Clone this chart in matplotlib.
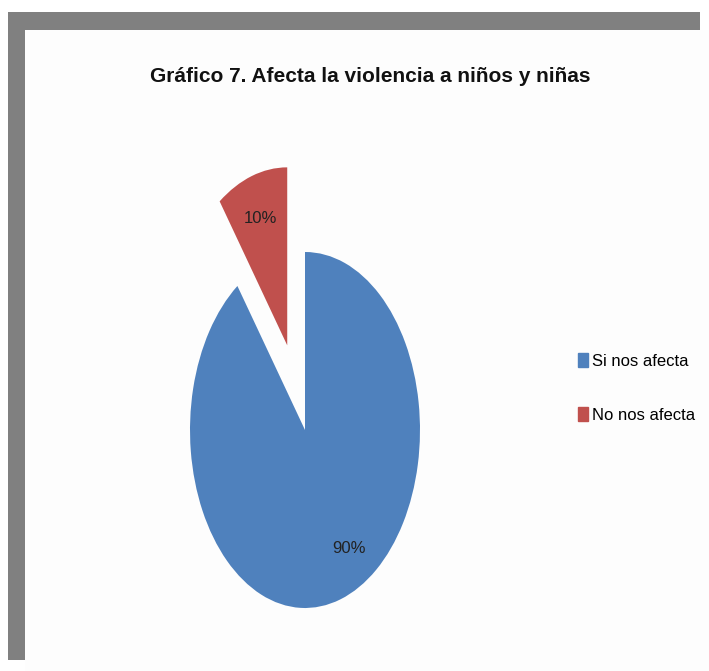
from matplotlib import pyplot as plt, patches

plt.rcParams['font.family'] = ['Liberation Sans', 'DejaVu Sans']

title = "Gráfico 7. Afecta la violencia a niños y niñas"
labels = ["Si nos afecta", "No nos afecta"]
values = [90, 10]
colors = ["#4F81BD", "#C0504D"]
explode = [0, 0.5]

W, H = 709, 671
fig = plt.figure(figsize=(W / 100, H / 100), dpi=100)
fig.patch.set_facecolor("white")

# gray frame shadow (top and left) and inner chart area
fig.add_artist(patches.Rectangle((8 / W, 1 - 30 / H), 692 / W, 18 / H, zorder=-5,
                                 transform=fig.transFigure, color="#808080", lw=0))
fig.add_artist(patches.Rectangle((8 / W, 1 - 660 / H), 17 / W, 648 / H, zorder=-5,
                                 transform=fig.transFigure, color="#808080", lw=0))
fig.add_artist(patches.Rectangle((25 / W, 0), 684 / W, 1 - 30 / H, zorder=-5,
                                 transform=fig.transFigure, color="#FDFDFD", lw=0))

fig.text(370 / W, 1 - 76 / H, title, ha="center", va="center",
         fontsize=15, fontweight="bold", color="#111111")

# pie axes: stretched ellipse, rx=115px, ry=178px around (305, 430)
cx, cy, rx, ry = 305, 430, 115, 178
ax = fig.add_axes([(cx - rx) / W, 1 - (cy + ry) / H, 2 * rx / W, 2 * ry / H])
ax.patch.set_visible(False)
wedges, texts, autotexts = ax.pie(values, colors=colors, explode=explode,
                                  startangle=90, counterclock=False,
                                  autopct="%d%%", pctdistance=0.75,
                                  textprops={"fontsize": 12, "color": "#222222"})
for w in wedges:
    w.set_clip_on(False)
# excel puts the big label a bit further right
x0, y0 = autotexts[0].get_position()
autotexts[0].set_position((x0 + 0.15, y0 + 0.05))
ax.set_aspect("auto")
ax.set_xlim(-1, 1)
ax.set_ylim(-1, 1)
ax.axis("off")

handles = [patches.Patch(color=c) for c in colors]
fig.legend(handles, labels, loc="center left", bbox_to_anchor=(563 / W, 1 - 388 / H),
           frameon=False, fontsize=12, handlelength=0.6, handleheight=0.9,
           handletextpad=0.25, labelspacing=2.3)

fig.savefig("out.png", dpi=100)
